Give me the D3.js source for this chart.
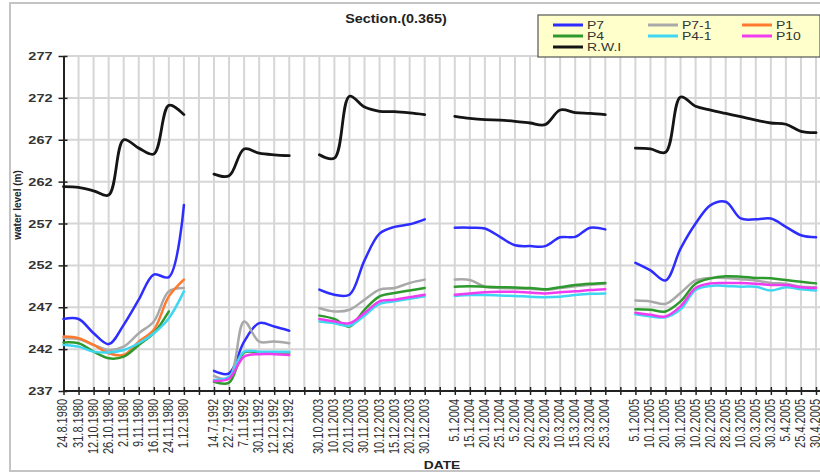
<!DOCTYPE html>
<html>
<head>
<meta charset="utf-8">
<script src="https://cdn.jsdelivr.net/npm/d3@7"></script>
<style>
  body { margin: 0; background: #fff; }
  svg { display: block; font-family: "Liberation Sans", Arial, sans-serif; }
</style>
</head>
<body>
<svg id="chart" width="820" height="474"></svg>
<script>
// Observation dates; empty strings are the spacer slots between campaigns
const dates = [
  "24.8.1980","31.8.1980","12.10.1980","26.10.1980","2.11.1980","9.11.1980","16.11.1980","24.11.1980","1.12.1980","",
  "14.7.1992","22.7.1992","7.11.1992","30.11.1992","12.12.1992","26.12.1992","",
  "30.10.2003","10.11.2003","20.11.2003","30.11.2003","10.12.2003","15.12.2003","20.12.2003","30.12.2003","",
  "5.1.2004","15.1.2004","20.1.2004","25.1.2004","5.2.2004","20.2.2004","29.2.2004","10.3.2004","15.3.2004","20.3.2004","25.3.2004","",
  "5.1.2005","10.1.2005","20.1.2005","30.1.2005","10.2.2005","20.2.2005","28.2.2005","10.3.2005","20.3.2005","30.3.2005","5.4.2005","25.4.2005","30.4.2005"
];

// Water levels (m)
const p7 = [
  245.6,245.6,243.9,242.6,244.9,247.9,250.9,250.6,259.2,null,
  239.4,239.1,242.9,245.1,244.7,244.2,null,
  249.1,248.5,248.5,252.6,255.8,256.6,256.9,257.5,null,
  256.5,256.5,256.4,255.4,254.4,254.3,254.3,255.35,255.4,256.5,256.3,null,
  252.3,251.4,250.2,254.0,257.0,259.2,259.6,257.6,257.5,257.6,256.6,255.6,255.35
];
const p7_1 = [
  243.3,243.2,242.5,241.9,242.3,243.9,245.3,248.9,249.3,null,
  238.8,238.5,245.3,242.9,242.9,242.7,null,
  246.9,246.5,246.7,247.9,249.1,249.3,249.9,250.3,null,
  250.3,250.25,249.45,249.3,249.25,249.2,249.1,249.3,249.5,249.7,249.8,null,
  247.8,247.7,247.4,248.7,250.2,250.5,250.5,250.35,250.2,249.9,249.8,249.45,249.4
];
const p1 = [
  243.5,243.3,242.5,241.5,241.3,242.9,244.3,248.3,250.3,null,
  null,null,null,null,null,null,null,
  null,null,null,null,null,null,null,null,null,
  null,null,null,null,null,null,null,null,null,null,null,null,
  null,null,null,null,null,null,null,null,null,null,null,null,null
];
const p4 = [
  242.8,242.7,241.7,240.9,241.1,242.5,243.9,246.5,null,null,
  238.1,238.0,241.6,241.6,241.6,241.6,null,
  246.0,245.6,244.7,246.7,248.3,248.7,249.0,249.3,null,
  249.45,249.5,249.45,249.4,249.35,249.3,249.15,249.4,249.65,249.8,249.9,null,
  246.75,246.7,246.5,247.7,249.8,250.45,250.7,250.65,250.5,250.45,250.25,250.05,249.85
];
const p4_1 = [
  242.5,242.3,241.7,241.6,241.9,242.7,243.9,245.7,248.9,null,
  238.3,238.7,241.7,241.7,241.7,241.7,null,
  245.3,245.1,244.8,246.0,247.4,247.7,248.0,248.3,null,
  248.35,248.45,248.45,248.4,248.35,248.25,248.2,248.25,248.45,248.6,248.65,null,
  246.15,245.9,245.8,246.75,249.05,249.55,249.55,249.45,249.45,249.0,249.4,249.15,249.0
];
const p10 = [
  null,null,null,null,null,null,null,null,null,null,
  238.2,238.5,241.1,241.4,241.4,241.3,null,
  245.6,245.3,245.1,246.3,247.7,247.9,248.2,248.5,null,
  248.5,248.65,248.8,248.85,248.85,248.75,248.65,248.8,248.9,249.05,249.15,null,
  246.35,246.1,245.9,247.1,249.3,249.85,249.9,249.9,249.8,249.65,249.65,249.4,249.3
];
const rwi = [
  261.4,261.3,260.9,260.4,267.0,266.0,265.3,271.1,270.0,null,
  262.9,262.7,265.9,265.4,265.2,265.1,null,
  265.2,264.8,272.2,270.9,270.4,270.35,270.2,270.0,null,
  269.8,269.55,269.4,269.35,269.2,269.0,268.8,270.55,270.25,270.15,270.0,null,
  266.0,265.9,265.5,272.1,271.0,270.55,270.15,269.75,269.35,269.0,268.85,268.0,267.85
];

const yTicks = [237, 242, 247, 252, 257, 262, 267, 272, 277];

const series = [
  { name: "P7",    values: p7,   color: "#2d2dff" },
  { name: "P7-1",  values: p7_1, color: "#a9a9a9" },
  { name: "P1",    values: p1,   color: "#ff7a2e" },
  { name: "P4",    values: p4,   color: "#2e9a2e" },
  { name: "P4-1",  values: p4_1, color: "#3fd6f2" },
  { name: "P10",   values: p10,  color: "#f03cf0" },
  { name: "R.W.I", values: rwi,  color: "#151515" }
];

const svg = d3.select("#chart");

// outer chart frame
svg.append("rect")
  .attr("x", 10).attr("y", 3).attr("width", 830).attr("height", 468)
  .attr("fill", "#fff").attr("stroke", "#c4c4c4").attr("stroke-width", 2);

const x = d3.scalePoint().domain(d3.range(dates.length)).range([63.5, 816]);
const y = d3.scaleLinear().domain([237, 277]).range([391, 56]);

// gridlines
const grid = svg.append("g").attr("stroke", "#d6d6d6").attr("stroke-width", 2);
grid.selectAll("line.v").data(x.domain().slice(1)).join("line")
  .attr("x1", d => x(d)).attr("x2", d => x(d))
  .attr("y1", y(277)).attr("y2", y(237));
grid.selectAll("line.h").data(yTicks.slice(1)).join("line")
  .attr("x1", x(0)).attr("x2", 830)
  .attr("y1", d => y(d)).attr("y2", d => y(d));

// Y axis
const yAxis = svg.append("g")
  .attr("transform", `translate(${x(0)},0)`)
  .call(d3.axisLeft(y).tickValues(yTicks).tickSize(5).tickSizeOuter(0));
yAxis.select(".domain").attr("stroke", "#222").attr("stroke-width", 2);
yAxis.selectAll(".tick line").attr("x1", 4).attr("x2", -5).attr("stroke", "#222").attr("stroke-width", 1.5);
yAxis.selectAll(".tick text")
  .attr("x", 0).attr("dy", "0.36em")
  .attr("transform", "translate(-11,0) scale(1.45,1)")
  .attr("font-size", 10).attr("fill", "#333").attr("font-weight", "bold")
  .attr("font-family", "Liberation Sans, Arial, sans-serif");

// X axis
const xAxis = svg.append("g")
  .attr("transform", `translate(0,${y(237)})`)
  .call(d3.axisBottom(x).tickFormat(i => dates[i]).tickSize(4).tickSizeOuter(0));
xAxis.select(".domain").attr("stroke", "#222").attr("stroke-width", 2)
  .attr("d", `M${x(0)},0H830`);
xAxis.selectAll(".tick line").attr("y1", -4).attr("y2", 4).attr("stroke", "#222").attr("stroke-width", 1.5);
xAxis.selectAll(".tick text")
  .attr("x", 0).attr("y", 0).attr("dy", "0.25em")
  .attr("text-anchor", "end")
  .attr("transform", "translate(0,8) scale(1.25,1) rotate(-90)")
  .attr("font-size", 11).attr("fill", "#333")
  .attr("font-family", "Liberation Sans, Arial, sans-serif");

// series lines
const line = d3.line()
  .defined(d => d != null)
  .x((d, i) => x(i))
  .y(d => y(d))
  .curve(d3.curveCatmullRom.alpha(0.5));

svg.append("g").selectAll("path").data(series).join("path")
  .attr("d", s => line(s.values))
  .attr("fill", "none")
  .attr("stroke", s => s.color)
  .attr("stroke-width", s => s.name === "R.W.I" ? 2.8 : 2.5)
  .attr("stroke-linejoin", "round")
  .attr("stroke-linecap", "round");

// title
svg.append("text")
  .attr("transform", "translate(396,23) scale(1.2,1)")
  .attr("text-anchor", "middle")
  .attr("font-size", 12).attr("font-weight", "bold").attr("fill", "#222")
  .text("Section.(0.365)");

// axis titles
svg.append("text")
  .attr("transform", "translate(21,205) rotate(-90)")
  .attr("text-anchor", "middle")
  .attr("font-size", 10).attr("font-weight", "bold").attr("fill", "#222")
  .text("water level (m)");

svg.append("text")
  .attr("transform", "translate(442,469) scale(1.2,1)")
  .attr("text-anchor", "middle")
  .attr("font-size", 11.5).attr("font-weight", "bold").attr("fill", "#222")
  .text("DATE");

// legend
const legend = svg.append("g");
legend.append("rect")
  .attr("x", 538).attr("y", 15).attr("width", 282).attr("height", 42)
  .attr("fill", "#ffffcc").attr("stroke", "#555").attr("stroke-width", 1.2);
const colX = [553, 648, 742];
const rowY = [25, 36, 47];
const items = legend.selectAll("g.item").data(series).join("g")
  .attr("transform", (s, i) => `translate(${colX[i % 3]},${rowY[Math.floor(i / 3)]})`);
items.append("line")
  .attr("x1", 0).attr("x2", 30).attr("y1", 0).attr("y2", 0)
  .attr("stroke", s => s.color).attr("stroke-width", 3);
items.append("text")
  .attr("transform", "translate(34,0) scale(1.4,1)")
  .attr("dy", "0.36em")
  .attr("font-size", 10).attr("fill", "#333")
  .text(s => s.name);
</script>
</body>
</html>
